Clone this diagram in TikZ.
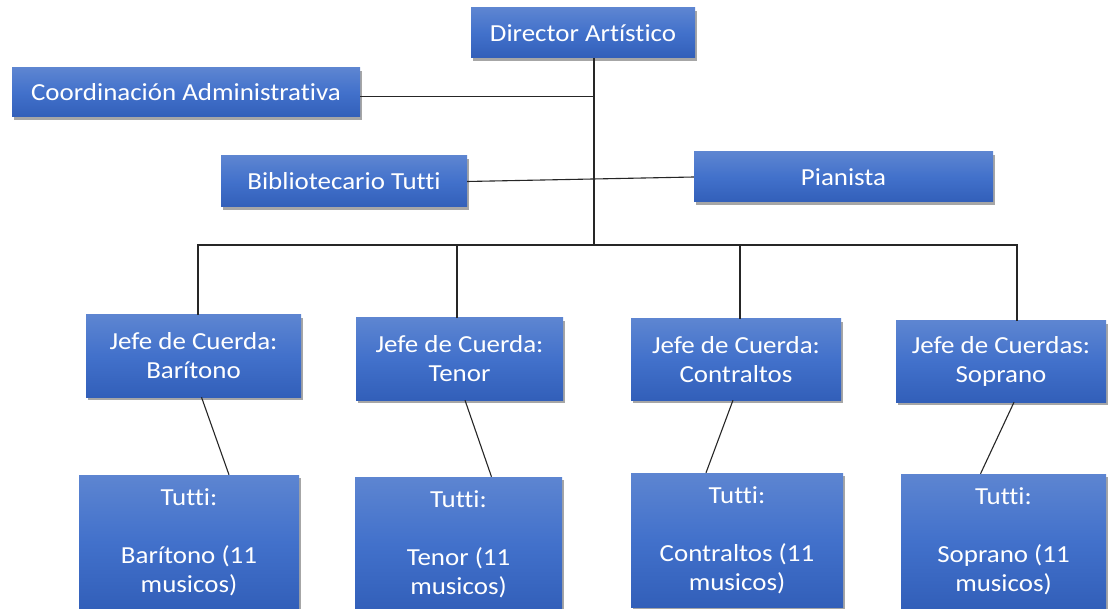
\documentclass[tikz,border=0pt]{standalone}
\usepackage{fontspec}
\setmainfont{Carlito}[FakeStretch=1.1, Ligatures=NoCommon]
\usetikzlibrary{shadows}
\tikzstyle{chart} = [x = 1pt, y = -1pt]
\definecolor{boxTop}{RGB}{93,133,209}
\definecolor{boxMiddle}{RGB}{66,113,203}
\definecolor{boxBottom}{RGB}{50,95,185}
\tikzstyle{boxStyle} = [rectangle, top color=boxTop, bottom color=boxBottom, middle color=boxMiddle,
  text=white, align=center, inner sep=0pt, font=\fontsize{24.5}{29}\selectfont,
  drop shadow={shadow xshift=2pt, shadow yshift=-3pt, opacity=.35, fill=black}]
\tikzstyle{lineStyle} = [color=black!85, line width=1.1pt]
\newcommand{\chartBox}[6]{\node [boxStyle, minimum width=#4, minimum height=#5] (#1) at (#2,#3) {#6};}

\begin{document}
\begin{tikzpicture}[chart]
          \useasboundingbox [fill=white] (0,0) rectangle (1108,609);
          \chartBox{director}{583}{33}{224}{50}{Director Artístico}
          \chartBox{coordinacion}{186}{92.5}{348}{49}{Coordinación Administrativa}
          \chartBox{bibliotecario}{344}{181.5}{246}{51}{Bibliotecario Tutti}
          \chartBox{pianista}{843.5}{177}{299}{50}{Pianista}

          \chartBox{jefeBaritono}{193.5}{356}{215}{82}{Jefe de Cuerda:\\Barítono}
          \chartBox{jefeTenor}{459.5}{359}{207}{82}{Jefe de Cuerda:\\Tenor}
          \chartBox{jefeContraltos}{736}{359.5}{210}{81}{Jefe de Cuerda:\\Contraltos}
          \chartBox{jefeSoprano}{1001}{361.5}{210}{81}{Jefe de Cuerdas:\\Soprano}

          \chartBox{tuttiBaritono}{189}{542}{220}{134}{Tutti:\\[29pt]Barítono (11\\musicos)}
          \chartBox{tuttiTenor}{458.5}{544}{207}{134}{Tutti:\\[29pt]Tenor (11\\musicos)}
          \chartBox{tuttiContraltos}{737}{540}{212}{134}{Tutti:\\[29pt]Contraltos (11\\musicos)}
          \chartBox{tuttiSoprano}{1003.5}{541}{205}{134}{Tutti:\\[29pt]Soprano (11\\musicos)}

          \coordinate (bus) at (594,245);
          \draw [lineStyle] ([xshift=11]director.south) -- (bus);
          \draw [lineStyle] ([yshift=-4]coordinacion.east) -- ([yshift=-4]coordinacion.east -| bus);
          \draw [lineStyle] (bibliotecario.east) -- (pianista.west);
          \draw [lineStyle] ([xshift=4.5]jefeBaritono.north) |- (bus) -| ([xshift=16]jefeSoprano.north);
          \draw [lineStyle] ([xshift=-2.5]jefeTenor.north) -- ([xshift=-2.5]jefeTenor.north |- bus);
          \draw [lineStyle] ([xshift=4]jefeContraltos.north) -- ([xshift=4]jefeContraltos.north |- bus);

          \draw [lineStyle] ([xshift=8]jefeBaritono.south) -- ([xshift=40]tuttiBaritono.north);
          \draw [lineStyle] ([xshift=5.5]jefeTenor.south) -- ([xshift=33]tuttiTenor.north);
          \draw [lineStyle] ([xshift=-3]jefeContraltos.south) -- ([xshift=-31]tuttiContraltos.north);
          \draw [lineStyle] ([xshift=13]jefeSoprano.south) -- ([xshift=-23]tuttiSoprano.north);
        \end{tikzpicture}
\end{document}
